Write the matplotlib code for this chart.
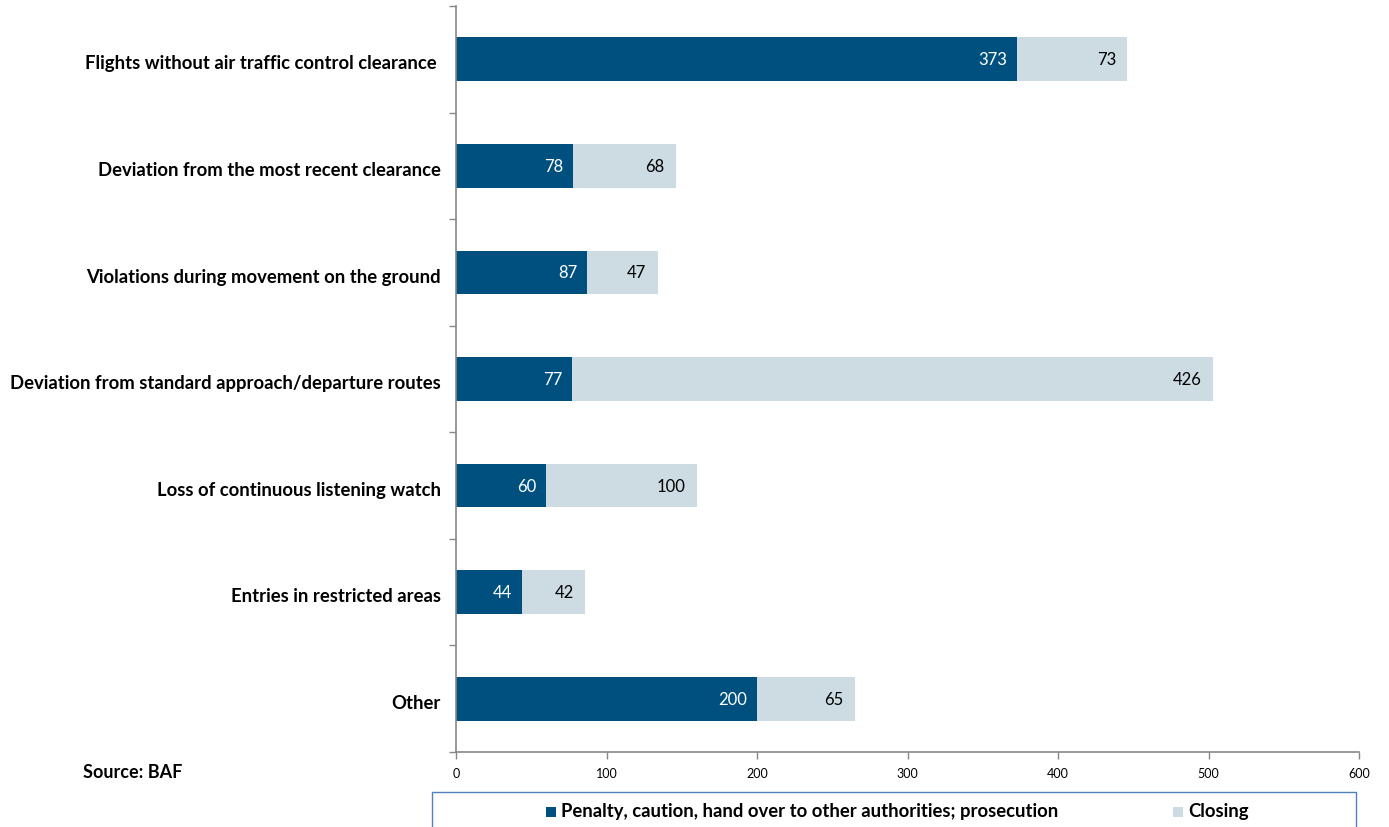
import matplotlib
matplotlib.use("Agg")
import matplotlib.pyplot as plt
from matplotlib.patches import Rectangle
import numpy as np

categories = [
    "Flights without air traffic control clearance ",
    "Deviation from the most recent clearance",
    "Violations during movement on the ground",
    "Deviation from standard approach/departure routes",
    "Loss of continuous listening watch",
    "Entries in restricted areas",
    "Other",
]
penalty = [373, 78, 87, 77, 60, 44, 200]
closing = [73, 68, 47, 426, 100, 42, 65]
series_names = ["Penalty, caution, hand over to other authorities; prosecution", "Closing"]
xticks = [0, 100, 200, 300, 400, 500, 600]

dark = "#00507F"
light = "#CDDBE3"
plt.rcParams['font.family'] = ['Lato', 'DejaVu Sans']

fig = plt.figure(figsize=(13.89, 8.28), dpi=100)
ax = fig.add_axes([456/1389, 1-753/828, (1359-456)/1389, (753-7)/828])

n = len(categories)
y = np.arange(n)
h = 0.41
ax.barh(y, penalty, height=h, color=dark, label=series_names[0])
ax.barh(y, closing, left=penalty, height=h, color=light, label=series_names[1])

for i in range(n):
    ax.text(penalty[i] - 6.5, y[i], str(penalty[i]), ha="right", va="center",
            color="white", fontsize=12)
    ax.text(penalty[i] + closing[i] - 7.5, y[i], str(closing[i]), ha="right", va="center",
            color="black", fontsize=12)

ax.set_xlim(0, 600)
ax.set_ylim(n - 0.5, -0.5)
ax.set_xticks(xticks)
ax.set_xticklabels([str(t) for t in xticks], fontsize=9)
ax.set_yticks(y + 0.02)
ax.set_yticklabels(categories, fontsize=13.3, fontweight="bold")
ax.tick_params(axis="y", length=0, pad=17 - 6)
ax.set_yticks(np.arange(-0.5, n, 1.0), minor=True)
ax.tick_params(axis="y", which="minor", length=5, direction="out", color="#888888", width=1)
ax.tick_params(axis="x", length=5, direction="out", color="#888888", width=1, pad=6)

for s in ["top", "right"]:
    ax.spines[s].set_visible(False)
for s in ["left", "bottom"]:
    ax.spines[s].set_color("#888888")
    ax.spines[s].set_linewidth(1.2)

fig.text(83/1389, 1-773/828, "Source: BAF", fontsize=13, fontweight="bold", va="center", ha="left")

# legend box
fig.patches.append(Rectangle((432/1389, -0.01), (1356-432)/1389, (1-793/828) + 0.01,
                             transform=fig.transFigure, fill=False, edgecolor="#4F81BD", linewidth=1))
fig.patches.append(Rectangle((546/1389, 1-818/828), 10/1389, 10/828, transform=fig.transFigure,
                             facecolor=dark, edgecolor="none"))
fig.text(561/1389, 1-812/828, series_names[0], fontsize=13.3, fontweight="bold", va="center", ha="left")
fig.patches.append(Rectangle((1173/1389, 1-818/828), 10/1389, 10/828, transform=fig.transFigure,
                             facecolor=light, edgecolor="none"))
fig.text(1188/1389, 1-812/828, series_names[1], fontsize=13.3, fontweight="bold", va="center", ha="left")

fig.savefig("out.png", dpi=100)
